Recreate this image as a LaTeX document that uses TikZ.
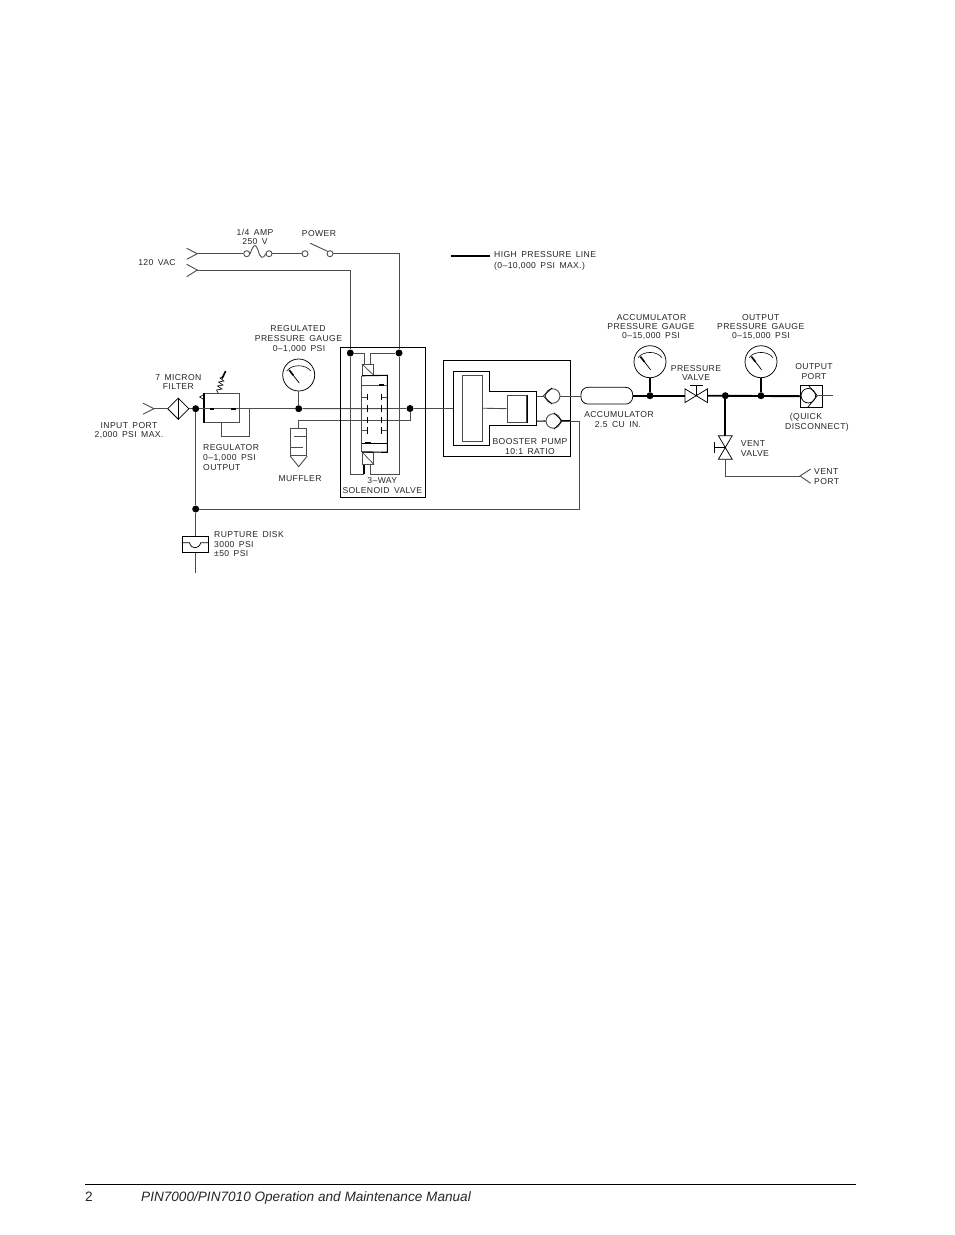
\documentclass[tikz,border=0pt]{standalone}
\usepackage{fontspec}
\setmainfont{Liberation Sans}
\newfontfamily\cadfont[LetterSpace=4.5,WordSpace=1.6]{Liberation Sans}
\usetikzlibrary{shapes.geometric}
\definecolor{thinc}{gray}{0.3}
\definecolor{cadtext}{gray}{0.15}
\tikzset{
  ln/.style={draw=thinc,line width=0.9pt},
  hp/.style={draw=black,line width=1.9pt},
  bx/.style={draw=black,line width=1.1pt},
  jdot/.style={circle,fill=black,draw=none,inner sep=0pt,minimum size=7pt},
  ringc/.style={circle,draw=black,line width=0.75pt,inner sep=0pt,fill=white},
  term/.style={circle,draw=thinc,line width=0.85pt,inner sep=0pt,minimum size=6pt},
  cad/.style={font=\cadfont\fontsize{8.6}{9}\selectfont,text=cadtext,inner sep=0pt},
  foot/.style={font=\fontsize{13.6}{15}\selectfont,text=black!85,inner sep=0pt,anchor=base west},
  tie/.style={draw=black,line width=0.75pt,fill=white,line join=miter},
  fine/.style={draw=black,line width=0.75pt},
}
\newcommand{\gaugesym}[3]{%
  \begin{scope}[shift={(#2,#3)}]
    \node[ringc,minimum size=32pt] (#1) at (0,0) {};
    \draw[draw=black,line width=0.6pt] (-12,-4) .. controls (-7,-11) and (7,-11) .. (12,-4);
    \draw[draw=black,line width=0.75pt] (-9.5,-5) -- (0.5,8);
    \draw[draw=black,line width=1.6pt] (-9.5,-5) -- (-5.5,0.2);
  \end{scope}}
\begin{document}
\begin{tikzpicture}[x=1pt,y=-1pt]
\useasboundingbox (0,0) rectangle (954,1235);
\fill[white] (0,0) rectangle (954,1235);

% --- coordinates
\coordinate (inapex) at (154,408.7);
\coordinate (acupper) at (197.3,253.7);
\coordinate (aclower) at (197.3,270);
\coordinate (ventapex) at (800,476);
\coordinate (dskbot) at (195.7,572.7);
\coordinate (legA) at (451,256);
\coordinate (legB) at (490,256);

% --- junctions
\node[jdot] (jin) at (195.7,408.7) {};
\node[jdot] (jret) at (195.7,509) {};
\node[jdot] (jreg) at (298.7,408.7) {};
\node[jdot] (jsa) at (350.3,353) {};
\node[jdot] (jsb) at (399,353) {};
\node[jdot] (jsv) at (410,408.5) {};
\node[jdot] (jacc) at (650,395.7) {};
\node[jdot] (jtee) at (725.3,395.7) {};
\node[jdot] (jout) at (761,395.7) {};

% --- power section
\draw[ln] (acupper)+(-10.6,-5.4) -- (acupper) -- +(-10.6,5.6);
\draw[ln] (aclower)+(-10.6,-5.7) -- (aclower) -- +(-10.6,6.7);
\node[term] (fa) at (246.7,253.7) {};
\node[term] (fb) at (269,253.7) {};
\node[term] (pa) at (305,253.7) {};
\node[term] (pb) at (330,253.7) {};
\coordinate (pt) at (310.3,243.3);
\draw[ln] (acupper) -- (fa.west);
\draw[ln] (fa.east) .. controls (254,243) and (256,244) .. (258,250) .. controls (260,258) and (263,260) .. (fb.west);
\draw[ln] (fb.east) -- (pa.west);
\draw[ln] (pt) -- (pb.north west);
\draw[ln] (pb.east) -| (jsb.north);
\draw[ln] (aclower) -| (jsa.north);

% --- legend
\draw[hp] (legA) -- (legB);

% --- input
\draw[ln] (inapex)+(-11,-5.5) -- (inapex) -- +(-11,5.5);
\node[diamond,aspect=1,fine,inner sep=0pt,minimum width=21.5pt,minimum height=21.5pt] (filt) at (178.3,408.7) {};
\draw[fine] (filt.north) -- (filt.south);
\draw[ln] (inapex) -- (filt.west);
\draw[ln] (filt.east) -- (jin);

% --- regulator
\node[draw=thinc,line width=0.9pt,inner sep=0pt,minimum width=35pt,minimum height=29pt] (reg) at (221.8,407.8) {};
\draw[draw=black,line width=1.3pt] (reg.north west) -- (reg.south west);
\coordinate (regl) at (221.3,422.3);
\coordinate (regbl) at (221.3,436.7);
\coordinate (regbr) at (249.3,436.7);
\coordinate (regr) at (249.3,408.7);
\draw[ln] (regl) -- (regbl) -- (regbr) -- (regr);
\draw[draw=black,line width=0.6pt] (204,394.5) -- (199.5,397) -- (204,399.5);
\draw[ln] (jin) -- (jreg);
\draw[draw=black,line width=2pt] (209.5,408.7) -- (214,408.7);
\draw[draw=black,line width=2pt] (231,408.7) -- (236,408.7);
% spring
\draw[draw=black,line width=0.6pt] (218.3,393.3) -- (216.5,390) -- (222,389) -- (217.5,386) -- (223,385) -- (218.5,382) -- (224,381) -- (220,378) -- (224,376);
\draw[draw=black,line width=1.6pt] (222,378.5) -- (225.7,371);

% --- regulated gauge
\gaugesym{gr}{298.7}{375}
\draw[ln] (gr.south) -- (jreg);

% --- main pressure lines
\draw[ln] (jreg) -- (jsv);
\node[draw=black,line width=1.1pt,inner sep=0pt,minimum width=127.4pt,minimum height=96.4pt] (pump) at (507,408.5) {};
\draw[ln] (jsv) -- ++(43.3,0) coordinate (pumpin);

% --- muffler
\node[draw=thinc,line width=0.9pt,inner sep=0pt,minimum width=16pt,minimum height=27.4pt] (muf) at (298.7,442) {};
\coordinate (mufup) at (298.7,420.3);
\coordinate (sjoin) at (410,420.3);
\draw[ln] (muf.north) -- (mufup) -- (sjoin) -- (jsv);
\draw[ln] (294,436) -- (muf.east |- 0,436);
\draw[ln] (muf.west |- 0,447.6) -- (303,447.6);
\coordinate (muftip) at (298.7,466.7);
\draw[ln] (muf.south west) -- (muftip) -- (muf.south east);

% --- solenoid valve
\node[draw=black,line width=0.8pt,inner sep=0pt,minimum width=85pt,minimum height=150pt] (sv) at (382.8,422.3) {};
\node[draw=thinc,line width=0.9pt,inner sep=0pt,minimum width=11.4pt,minimum height=11pt] (solt) at (368,369.8) {};
\node[draw=thinc,line width=0.9pt,inner sep=0pt,minimum width=11.4pt,minimum height=12pt] (solb) at (368,458.3) {};
\draw[draw=thinc,line width=0.75pt] (solt.north west) -- (solt.south east);
\draw[draw=thinc,line width=0.75pt] (solb.north west) -- (solb.south east);
\coordinate (bodytr) at (387.3,375.3);
\coordinate (bodybr) at (387.3,452.3);
\draw[ln] (solt.south west) -- (solb.north west);
\draw[draw=black,line width=1.1pt] (solt.south west) -- (bodytr) -- (bodybr) -- (solb.north west);
% port lines
\coordinate (tla) at (364.7,353);
\coordinate (tlb) at (370,353);
\draw[ln] (jsa) -- (tla) -- (tla |- solt.north);
\draw[ln] (jsb) -- (tlb) -- (tlb |- solt.north);
\coordinate (bla) at (350.3,474.3);
\coordinate (blb) at (399,474.3);
\coordinate (blc) at (364,474.3);
\coordinate (bld) at (370,474.3);
\draw[ln] (jsa) -- (bla) -- (blc);
\draw[draw=black,line width=1.2pt] (blc) -- (blc |- solb.south);
\draw[ln] (jsb) -- (blb) -- (bld) -- (bld |- solb.south);
% inner passages
\draw[ln] (362.3,385) -- (387.3,385);
\draw[draw=black,line width=2pt] (378.5,385) -- (384,385);
\draw[ln] (362.3,397) -- (367.7,397) (381.7,397) -- (387.3,397);
\draw[ln] (362.3,430.7) -- (367.7,430.7) (381.7,430.7) -- (387.3,430.7);
\draw[draw=black,line width=1.1pt] (362.3,443.3) -- (387.3,443.3);
\draw[draw=black,line width=2pt] (365,443.3) -- (370.5,443.3);
\foreach \yy in {397,408.4,420,430.7}{
  \draw[draw=black,line width=0.9pt] (367.7,\yy-3.4) -- (367.7,\yy+3.4);
  \draw[draw=black,line width=0.9pt] (381.7,\yy-3.4) -- (381.7,\yy+3.4);
}

% --- booster pump
\draw[bx] (489.3,391.7) -- (489.3,371.3) -- (453.3,371.3) -- (453.3,445.3) -- (489.3,445.3) -- (489.3,425.3) -- (536.7,425.3) -- (536.7,391.7) -- cycle;
\node[draw=thinc,line width=0.9pt,inner sep=0pt,minimum width=20.4pt,minimum height=66.3pt] (pin) at (472.5,408.2) {};
\node[draw=thinc,line width=0.9pt,inner sep=0pt,minimum width=19.7pt,minimum height=27.3pt] (pcy) at (516.8,408.7) {};
\draw[draw=black,line width=1.1pt] (pcy.north east) -- (pcy.south east);
\draw[ln] (pin.east) -- (pcy.west);
% check valves
\node[circle,draw=thinc,line width=0.9pt,inner sep=0pt,minimum size=14.5pt] (cvu) at (552.7,396) {};
\node[circle,draw=thinc,line width=0.9pt,inner sep=0pt,minimum size=14.5pt] (cvl) at (553.3,421) {};
\coordinate (cvua) at (543.3,396);
\coordinate (cvla) at (562.3,421);
\draw[fine] (552,388) -- (cvua) -- (552,404);
\draw[fine] (554,413) -- (cvla) -- (554,429);
\draw[ln] (536.7,396) -- (cvua);
\draw[draw=black,line width=1.1pt] (536.7,421.2) -- (cvl.west);
\draw[draw=black,line width=1.1pt] (cvla) -- (pump.east |- cvla);

% --- accumulator
\node[fine,rounded corners=7pt,inner sep=0pt,minimum width=51.7pt,minimum height=16.7pt] (acc) at (606.8,395.7) {};
\draw[ln] (cvu.east) -- (cvu.east -| acc.west);
% return line
\coordinate (retr) at (579.5,509);
\coordinate (retu) at (579.5,421);
\draw[ln] (cvla) -- (retu) -- (retr) -- (jret);
\draw[ln] (jin) -- (jret);

% --- rupture disk
\node[draw=black,line width=0.8pt,inner sep=0pt,minimum width=26pt,minimum height=16pt] (rup) at (195.3,544.3) {};
\draw[ln] (jret) -- (rup.north -| jret);
\draw[ln] (rup.south -| jret) -- (dskbot);
\draw[fine] (rup.west |- 0,542.7) -- (189.5,542.7) .. controls (191,549.5) and (199,549.5) .. (200.7,542.7) -- (rup.east |- 0,542.7);

% --- high pressure right section
\gaugesym{ga}{650}{361.7}
\gaugesym{go}{761}{361.7}
\node[draw=none,minimum width=22pt,minimum height=13.3pt,inner sep=0pt] (pv) at (696.2,395.7) {};
\node[draw=black,line width=0.8pt,inner sep=0pt,minimum width=21.6pt,minimum height=22.3pt,fill=white] (op) at (811.5,396.2) {};
\draw[hp] (acc.east) -- (pv.west);
\draw[hp] (pv.east) -- (op.west);
\draw[hp] (ga.south) -- (jacc);
\draw[hp] (go.south) -- (jout);
\draw[tie] (pv.south west) -- (pv.north east) -- (pv.south east) -- (pv.north west) -- cycle;
\coordinate (pvt) at (696.2,385);
\draw[fine] (pv.center) -- (pvt);
\draw[fine] (690,385) -- (702.7,385);
% vent valve
\node[draw=none,minimum width=13.3pt,minimum height=23pt,inner sep=0pt] (vv) at (725.3,447.5) {};
\draw[hp] (jtee) -- (vv.north);
\draw[tie] (vv.north west) -- (vv.north east) -- (vv.south west) -- (vv.south east) -- cycle;
\coordinate (vh) at (714,447.5);
\draw[fine] (vv.center) -- (vh);
\draw[fine] (714,441.7) -- (714,453.3);
\draw[ln] (vv.south) |- (ventapex);
\draw[ln] (ventapex)+(10.7,-7) -- (ventapex) -- +(10.7,7.3);
% output port
\node[circle,fine,inner sep=0pt,minimum size=14.5pt] (opc) at (808.3,395.7) {};
\coordinate (opa) at (817.3,395.7);
\draw[fine] (808,385) -- (opa) -- (808,407);
\coordinate (opout) at (832.7,395.7);
\draw[ln] (opa) -- (opout);

% --- labels
\node[cad] (t01) at (255,232) {1/4 AMP};
\node[cad] (t02) at (255,242) {250 V};
\node[cad] (t03) at (319,234) {POWER};
\node[cad] (t04) at (157,262.5) {120 VAC};
\node[cad,anchor=west] (t05) at (494,255) {HIGH PRESSURE LINE};
\node[cad,anchor=west] (t06) at (494,266) {(0–10,000 PSI MAX.)};
\node[cad] (t07) at (298,328.7) {REGULATED};
\node[cad] (t08) at (298.5,339) {PRESSURE GAUGE};
\node[cad] (t09) at (299,349) {0–1,000 PSI};
\node[cad] (t10) at (178.3,377.5) {7 MICRON};
\node[cad] (t11) at (178.3,386.8) {FILTER};
\node[cad] (t12) at (129,425.5) {INPUT PORT};
\node[cad] (t13) at (129,435.5) {2,000 PSI MAX.};
\node[cad,anchor=west] (t14) at (203,447.7) {REGULATOR};
\node[cad,anchor=west] (t15) at (203,457.7) {0–1,000 PSI};
\node[cad,anchor=west] (t16) at (203,467.7) {OUTPUT};
\node[cad] (t17) at (300,478.5) {MUFFLER};
\node[cad,anchor=west] (t18) at (214,535) {RUPTURE DISK};
\node[cad,anchor=west] (t19) at (214,544.3) {3000 PSI};
\node[cad,anchor=west] (t20) at (214,553.5) {±50 PSI};
\node[cad] (t21) at (382.3,481) {3–WAY};
\node[cad] (t22) at (382.3,491) {SOLENOID VALVE};
\node[cad] (t23) at (530,441.7) {BOOSTER PUMP};
\node[cad] (t24) at (530,451.3) {10:1 RATIO};
\node[cad] (t25) at (619,414.3) {ACCUMULATOR};
\node[cad] (t26) at (618,424.3) {2.5 CU IN.};
\node[cad] (t27) at (651.5,317.5) {ACCUMULATOR};
\node[cad] (t28) at (651,326.8) {PRESSURE GAUGE};
\node[cad] (t29) at (651,336) {0–15,000 PSI};
\node[cad] (t30) at (760.7,317.5) {OUTPUT};
\node[cad] (t31) at (760.7,326.8) {PRESSURE GAUGE};
\node[cad] (t32) at (761,336) {0–15,000 PSI};
\node[cad] (t33) at (696,368.5) {PRESSURE};
\node[cad] (t34) at (696,378) {VALVE};
\node[cad] (t35) at (814,367) {OUTPUT};
\node[cad] (t36) at (814,376.5) {PORT};
\node[cad] (t37) at (806,417) {(QUICK};
\node[cad] (t38) at (817,427.5) {DISCONNECT)};
\node[cad,anchor=west] (t39) at (740.7,444) {VENT};
\node[cad,anchor=west] (t40) at (740.7,454) {VALVE};
\node[cad,anchor=west] (t41) at (814,472) {VENT};
\node[cad,anchor=west] (t42) at (814,482) {PORT};

% --- footer
\coordinate (fra) at (85,1184);
\coordinate (frb) at (856,1184);
\draw[draw=black,line width=0.7pt] (fra) -- (frb);
\node[foot] (fpg) at (85,1201) {2};
\node[foot] (ftx) at (141,1201) {\itshape PIN7000/PIN7010 Operation and Maintenance Manual};
\end{tikzpicture}
\end{document}
